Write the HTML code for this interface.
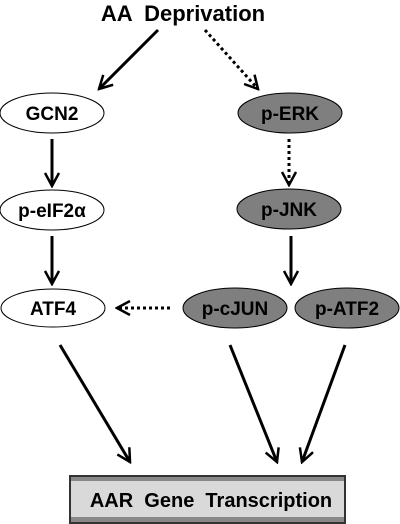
<!DOCTYPE html><html><head><style>body{margin:0;background:#fff}svg{display:block}text{font-family:"Liberation Sans",sans-serif;font-weight:bold;white-space:pre}</style></head><body>
<svg width="400" height="524" viewBox="0 0 400 524">
<defs><marker id="a" viewBox="0 0 16 16" refX="14" refY="8" markerWidth="16" markerHeight="16" markerUnits="userSpaceOnUse" orient="auto"><path d="M1,1 L14,8 L1,15" fill="none" stroke="#000" stroke-width="2.5"/></marker></defs>
<text x="183" y="21" font-size="22" text-anchor="middle" xml:space="preserve">AA  Deprivation</text>
<g stroke="#000" stroke-width="3" fill="none" marker-end="url(#a)">
<line x1="158" y1="30" x2="99" y2="89"/>
<line x1="52" y1="139" x2="52" y2="186"/>
<line x1="52" y1="236" x2="52" y2="284"/>
<line x1="291" y1="236" x2="291" y2="284"/>
<line x1="60" y1="345" x2="130" y2="462"/>
<line x1="230" y1="345" x2="277" y2="462"/>
<line x1="345" y1="345" x2="302" y2="462"/>
</g>
<g stroke="#000" stroke-width="3" fill="none" stroke-dasharray="3,3" marker-end="url(#a)">
<line x1="205" y1="30" x2="258" y2="89"/>
<line x1="289" y1="139" x2="289" y2="185"/>
<line x1="170" y1="308" x2="117" y2="308"/>
</g>
<g stroke="#000" stroke-width="1">
<ellipse cx="52" cy="113" rx="52" ry="20" fill="#fff"/>
<ellipse cx="52" cy="210" rx="52" ry="20" fill="#fff"/>
<ellipse cx="53" cy="308" rx="52" ry="19" fill="#fff"/>
<ellipse cx="290" cy="113" rx="52" ry="20" fill="#7f7f7f"/>
<ellipse cx="289" cy="209" rx="52" ry="20" fill="#7f7f7f"/>
<ellipse cx="235" cy="308" rx="52" ry="20" fill="#7f7f7f"/>
<ellipse cx="347" cy="308" rx="52" ry="20" fill="#7f7f7f"/>
</g>
<g font-size="19" text-anchor="middle">
<text x="52" y="120">GCN2</text>
<text x="52" y="217">p-eIF2α</text>
<text x="53" y="315">ATF4</text>
<text x="290" y="120">p-ERK</text>
<text x="289" y="216">p-JNK</text>
<text x="235" y="315">p-cJUN</text>
<text x="347" y="315">p-ATF2</text>
</g>
<rect x="70" y="476" width="275" height="47" fill="#d9d9d9" stroke="#333" stroke-width="2"/>
<rect x="71" y="477" width="273" height="4" fill="#888"/>
<rect x="71" y="517" width="273" height="5" fill="#888"/>
<text x="211" y="507" font-size="20" text-anchor="middle" xml:space="preserve">AAR  Gene  Transcription</text>
</svg></body></html>
